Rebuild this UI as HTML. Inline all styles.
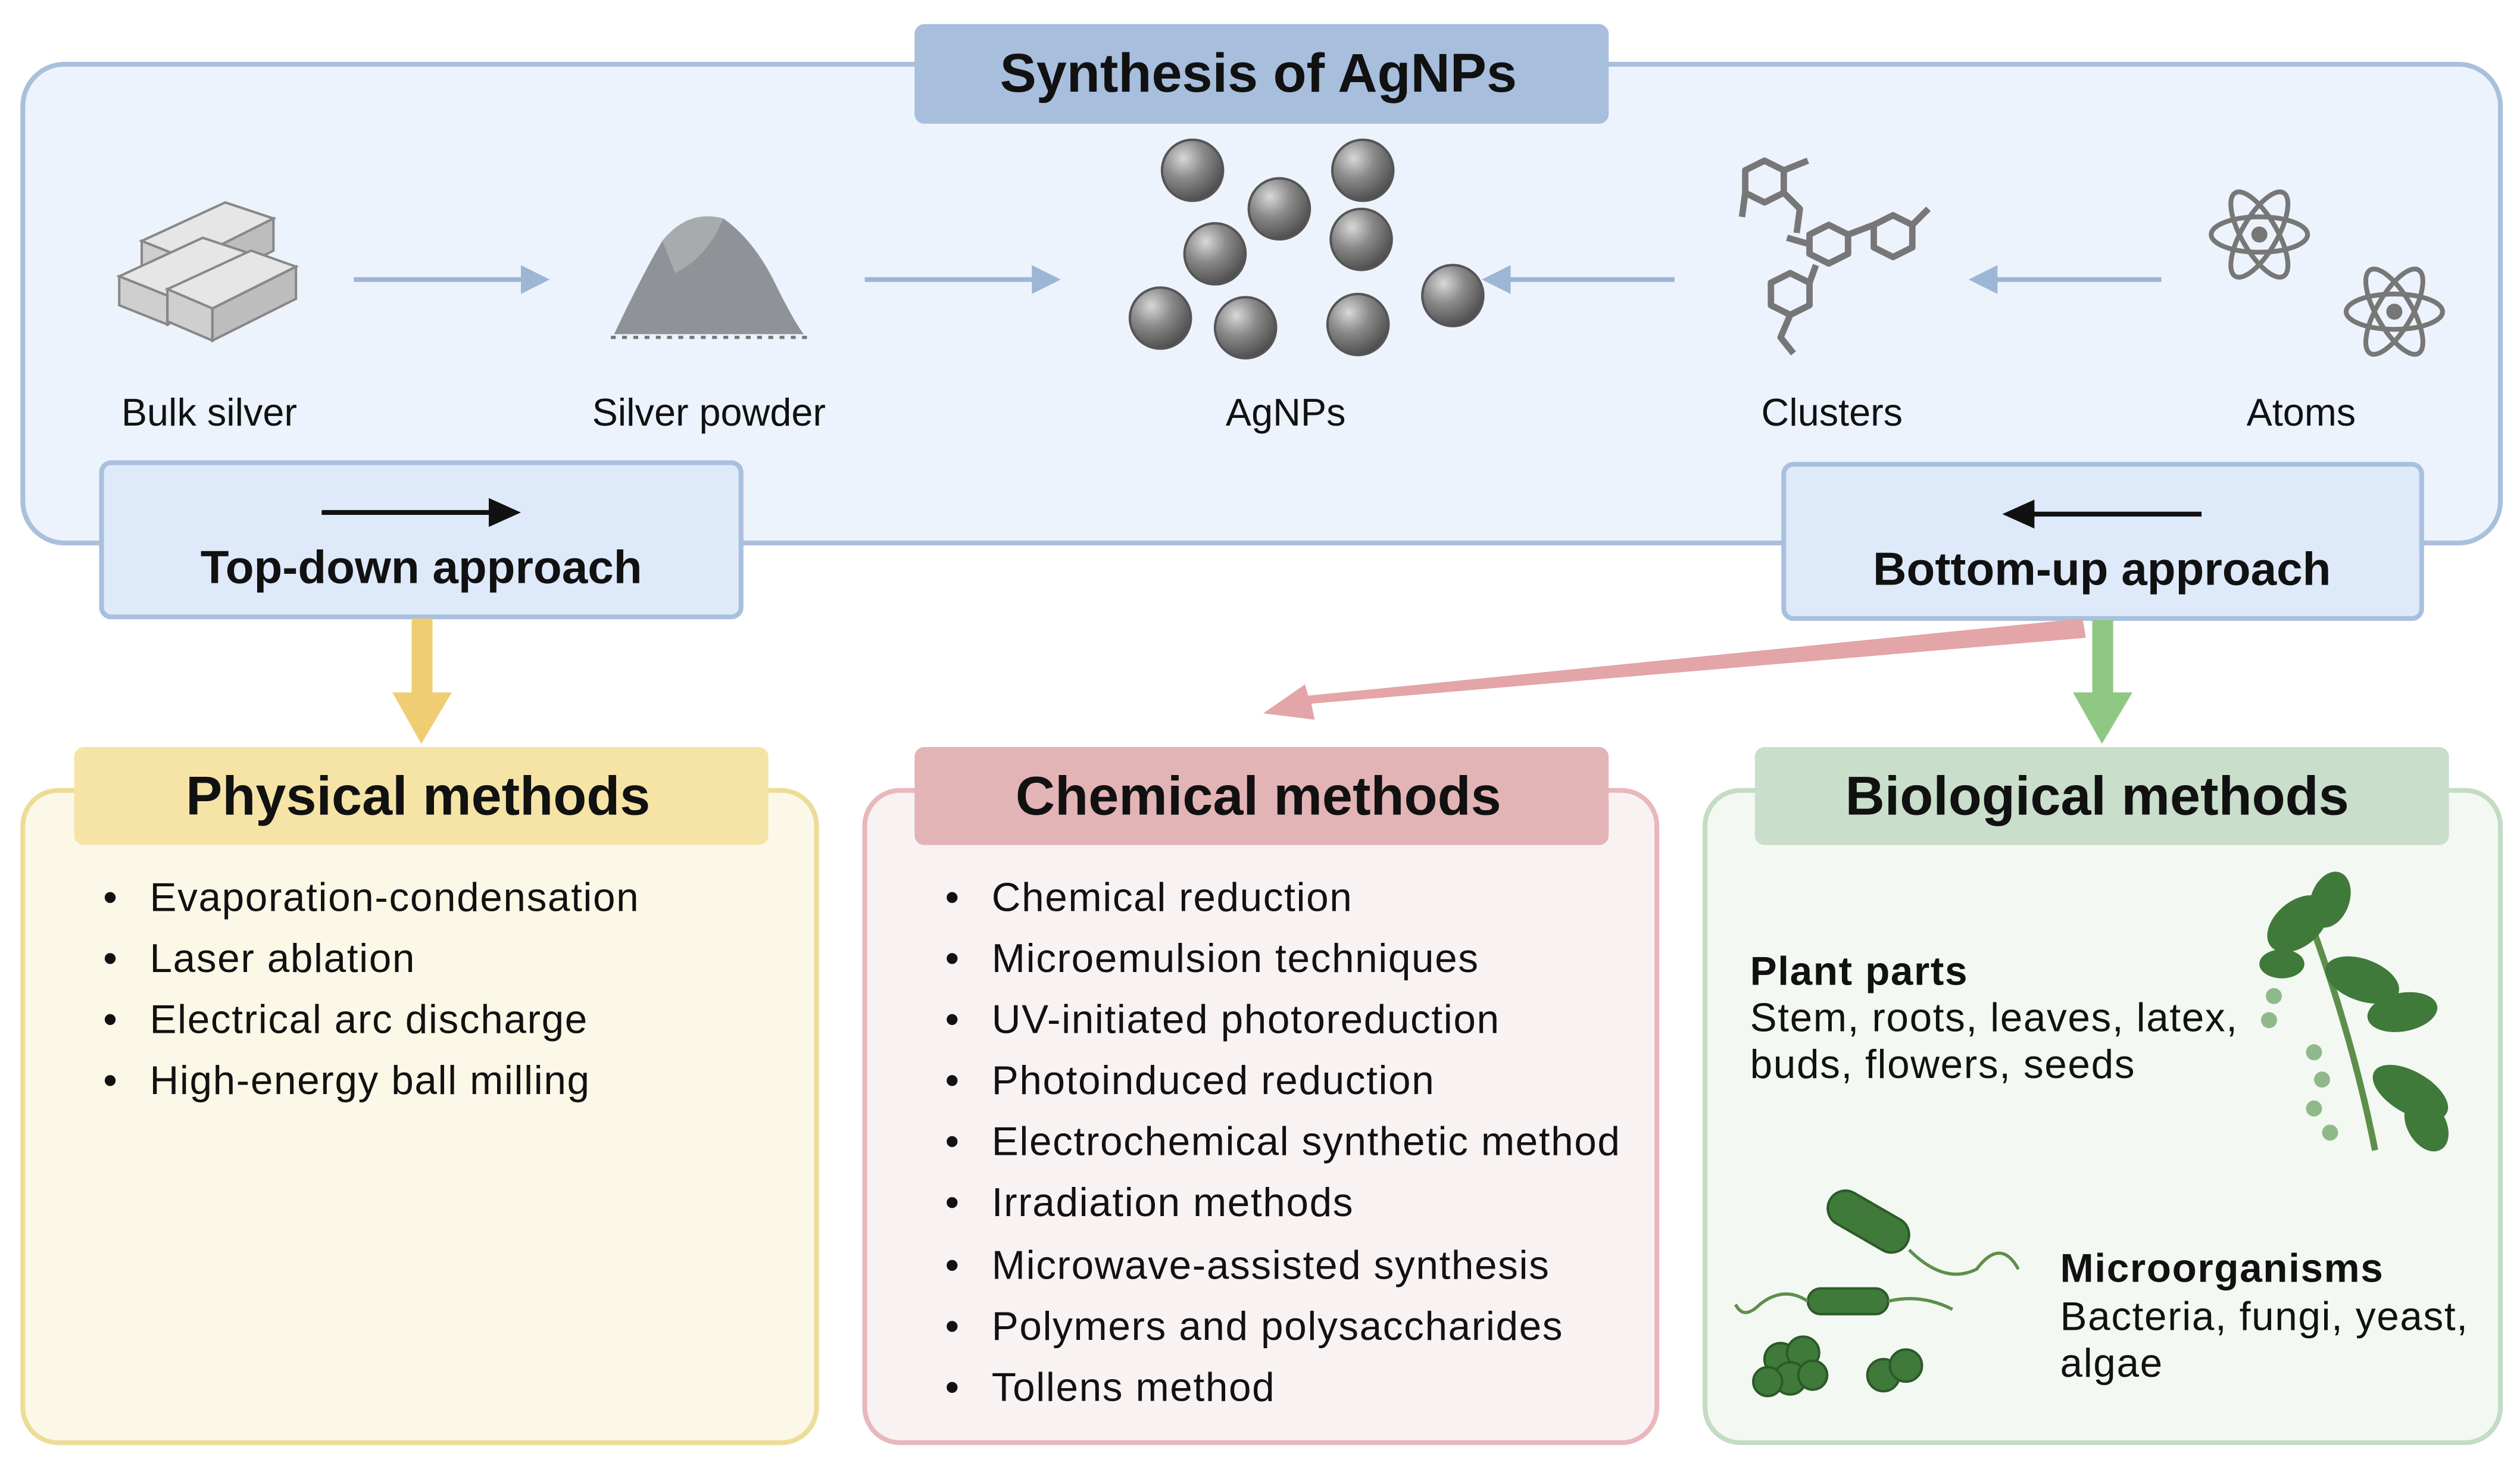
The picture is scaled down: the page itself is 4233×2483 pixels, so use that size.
<!DOCTYPE html>
<html><head><meta charset="utf-8"><style>
html,body{margin:0;padding:0;background:#fff;}
svg{display:block;}
text{font-family:"Liberation Sans","DejaVu Sans",sans-serif;fill:#111;}
.b{font-weight:bold;}
.l text{letter-spacing:0.6px;}
</style></head><body>
<svg width="4233" height="2483" viewBox="0 0 1568 920" xmlns="http://www.w3.org/2000/svg">
<defs>
<radialGradient id="sp" cx="0.35" cy="0.3" r="0.75">
<stop offset="0" stop-color="#d8d8d8"/><stop offset="0.45" stop-color="#8a8a8a"/><stop offset="1" stop-color="#4a4a4a"/>
</radialGradient>
</defs>
<rect width="1568" height="920" fill="#fff"/>
<rect x="14" y="40" width="1542" height="298" rx="26" fill="#edf3fd" stroke="#a9c0dd" stroke-width="3"/>
<rect x="569" y="15" width="432" height="62" rx="6" fill="#a7bedd"/>
<text x="783" y="57" font-size="34" text-anchor="middle" class="b">Synthesis of AgNPs</text>

<g stroke="#888" stroke-width="1.5" fill="#e6e6e6">
<polygon points="88,150 140,126 170,136 118,162"/><polygon points="88,150 118,162 118,182 88,170" fill="#cfcfcf"/><polygon points="118,162 170,136 170,156 118,182" fill="#bdbdbd"/>
<polygon points="74,172 126,148 156,158 104,184"/><polygon points="74,172 104,184 104,202 74,190" fill="#cfcfcf"/><polygon points="104,184 156,158 156,176 104,202" fill="#bdbdbd"/>
<polygon points="104,180 156,156 184,166 132,192"/><polygon points="104,180 132,192 132,212 104,200" fill="#cfcfcf"/><polygon points="132,192 184,166 184,186 132,212" fill="#bdbdbd"/>
</g>
<path d="M382,208 Q400,170 412,150 Q428,130 450,136 Q470,150 484,180 Q494,200 500,208 Z" fill="#8f9296"/>
<path d="M412,150 Q428,130 450,136 Q440,160 420,170 Z" fill="#a8abae"/>
<line x1="380" y1="210" x2="502" y2="210" stroke="#777" stroke-width="2" stroke-dasharray="3,4"/>

<g stroke="#9db6d6" stroke-width="3" fill="none">
<line x1="220" y1="174" x2="330" y2="174"/><line x1="538" y1="174" x2="648" y2="174"/>
<line x1="1042" y1="174" x2="934" y2="174"/><line x1="1345" y1="174" x2="1237" y2="174"/>
</g>
<g fill="#9db6d6">
<polygon points="342,174 324,165 324,183"/><polygon points="660,174 642,165 642,183"/>
<polygon points="922,174 940,165 940,183"/><polygon points="1225,174 1243,165 1243,183"/>
</g>

<g stroke="#555" stroke-width="1.5" fill="url(#sp)">
<circle cx="742" cy="106" r="19"/><circle cx="848" cy="106" r="19"/><circle cx="796" cy="130" r="19"/>
<circle cx="756" cy="158" r="19"/><circle cx="847" cy="149" r="19"/><circle cx="722" cy="198" r="19"/>
<circle cx="775" cy="204" r="19"/><circle cx="845" cy="202" r="19"/><circle cx="904" cy="184" r="19"/>
</g>

<g stroke="#777" stroke-width="4" fill="none" stroke-linejoin="round">
<polygon points="1098,100 1110,106 1110,120 1098,126 1086,120 1086,106"/>
<path d="M1110,120 L1120,130 L1118,145 M1086,120 L1084,135 M1110,106 L1125,100"/>
<polygon points="1138,140 1150,146 1150,158 1138,164 1126,158 1126,146"/>
<polygon points="1178,134 1190,140 1190,154 1178,160 1166,154 1166,140"/>
<path d="M1150,146 L1166,140 M1190,140 L1200,130 M1126,152 L1112,148"/>
<polygon points="1114,170 1126,176 1126,190 1114,196 1102,190 1102,176"/>
<path d="M1114,196 L1108,210 L1116,220 M1126,176 L1130,165"/>
</g>
<g stroke="#777" stroke-width="3" fill="none">
<ellipse cx="1406" cy="146" rx="30" ry="11"/><ellipse cx="1406" cy="146" rx="30" ry="11" transform="rotate(60 1406 146)"/><ellipse cx="1406" cy="146" rx="30" ry="11" transform="rotate(-60 1406 146)"/>
<ellipse cx="1490" cy="194" rx="30" ry="11"/><ellipse cx="1490" cy="194" rx="30" ry="11" transform="rotate(60 1490 194)"/><ellipse cx="1490" cy="194" rx="30" ry="11" transform="rotate(-60 1490 194)"/>
</g>
<circle cx="1406" cy="146" r="5" fill="#777"/><circle cx="1490" cy="194" r="5" fill="#777"/>

<g font-size="24" text-anchor="middle">
<text x="130" y="265">Bulk silver</text><text x="441" y="265">Silver powder</text><text x="800" y="265">AgNPs</text>
<text x="1140" y="265">Clusters</text><text x="1432" y="265">Atoms</text>
</g>

<rect x="63" y="288" width="398" height="96" rx="6" fill="#deeafa" stroke="#a9c0dd" stroke-width="3"/>
<line x1="200" y1="319" x2="308" y2="319" stroke="#111" stroke-width="3"/><polygon points="324,319 304,310 304,328" fill="#111"/>
<text x="262" y="363" font-size="29" text-anchor="middle" class="b">Top-down approach</text>
<rect x="1110" y="289" width="397" height="96" rx="6" fill="#deeafa" stroke="#a9c0dd" stroke-width="3"/>
<line x1="1370" y1="320" x2="1262" y2="320" stroke="#111" stroke-width="3"/><polygon points="1246,320 1266,311 1266,329" fill="#111"/>
<text x="1308" y="364" font-size="29" text-anchor="middle" class="b">Bottom-up approach</text>

<rect x="256" y="385" width="13" height="48" fill="#f0cd73"/><polygon points="244,431 281,431 262,463" fill="#f0cd73"/>
<rect x="1302" y="386" width="13" height="47" fill="#8fc882"/><polygon points="1290,431 1327,431 1308,463" fill="#8fc882"/>
<polygon points="1296,385 1298,397 816,438 818,448 786,444 812,426 814,433" fill="#e3a5a8"/>

<rect x="14" y="492" width="494" height="406" rx="22" fill="#fcf8e8" stroke="#ecdc97" stroke-width="3"/>
<rect x="46" y="465" width="432" height="61" rx="6" fill="#f5e4a6"/>
<text x="260" y="507" font-size="34" text-anchor="middle" class="b">Physical methods</text>
<rect x="538" y="492" width="493" height="406" rx="22" fill="#f9f2f2" stroke="#e8b8ba" stroke-width="3"/>
<rect x="569" y="465" width="432" height="61" rx="6" fill="#e3b4b6"/>
<text x="783" y="507" font-size="34" text-anchor="middle" class="b">Chemical methods</text>
<rect x="1061" y="492" width="495" height="406" rx="22" fill="#f4f8f3" stroke="#c3dcc3" stroke-width="3"/>
<rect x="1092" y="465" width="432" height="61" rx="6" fill="#c9decb"/>
<text x="1305" y="507" font-size="34" text-anchor="middle" class="b">Biological methods</text>

<g font-size="25" class="l">
<text x="64" y="567">•</text><text x="93" y="567">Evaporation-condensation</text>
<text x="64" y="605">•</text><text x="93" y="605">Laser ablation</text>
<text x="64" y="643">•</text><text x="93" y="643">Electrical arc discharge</text>
<text x="64" y="681">•</text><text x="93" y="681">High-energy ball milling</text>

<text x="588" y="567">•</text><text x="617" y="567">Chemical reduction</text>
<text x="588" y="605">•</text><text x="617" y="605">Microemulsion techniques</text>
<text x="588" y="643">•</text><text x="617" y="643">UV-initiated photoreduction</text>
<text x="588" y="681">•</text><text x="617" y="681">Photoinduced reduction</text>
<text x="588" y="719">•</text><text x="617" y="719">Electrochemical synthetic method</text>
<text x="588" y="757">•</text><text x="617" y="757">Irradiation methods</text>
<text x="588" y="796">•</text><text x="617" y="796">Microwave-assisted synthesis</text>
<text x="588" y="834">•</text><text x="617" y="834">Polymers and polysaccharides</text>
<text x="588" y="872">•</text><text x="617" y="872">Tollens method</text>

<text x="1089" y="613" class="b">Plant parts</text>
<text x="1089" y="642">Stem, roots, leaves, latex,</text>
<text x="1089" y="671">buds, flowers, seeds</text>
<text x="1282" y="798" class="b">Microorganisms</text>
<text x="1282" y="828">Bacteria, fungi, yeast,</text>
<text x="1282" y="857">algae</text>
</g>

<g fill="#3f7a3a">
<path d="M1478,716 Q1465,650 1440,580" stroke="#5d8f4a" stroke-width="4" fill="none"/>
<ellipse cx="1430" cy="575" rx="22" ry="14" transform="rotate(-40 1430 575)"/>
<ellipse cx="1450" cy="560" rx="18" ry="12" transform="rotate(-70 1450 560)"/>
<ellipse cx="1470" cy="610" rx="24" ry="13" transform="rotate(20 1470 610)"/>
<ellipse cx="1495" cy="630" rx="22" ry="12" transform="rotate(-10 1495 630)"/>
<ellipse cx="1500" cy="680" rx="26" ry="13" transform="rotate(30 1500 680)"/>
<ellipse cx="1510" cy="700" rx="18" ry="12" transform="rotate(60 1510 700)"/>
<ellipse cx="1420" cy="600" rx="14" ry="9"/>
</g>
<g fill="#8fb98a"><circle cx="1415" cy="620" r="5"/><circle cx="1412" cy="635" r="5"/><circle cx="1440" cy="655" r="5"/><circle cx="1445" cy="672" r="5"/><circle cx="1440" cy="690" r="5"/><circle cx="1450" cy="705" r="5"/></g>
<g fill="#3f7a3a" stroke="#2c5a2a" stroke-width="1.5">
<rect x="1135" y="748" width="55" height="22" rx="11" transform="rotate(30 1160 760)"/>
<rect x="1125" y="802" width="50" height="16" rx="8"/>
<circle cx="1108" cy="846" r="10"/><circle cx="1122" cy="842" r="10"/><circle cx="1114" cy="858" r="10"/><circle cx="1100" cy="860" r="9"/><circle cx="1128" cy="856" r="9"/>
<circle cx="1172" cy="856" r="10"/><circle cx="1186" cy="850" r="10"/>
</g>
<g stroke="#5d8f4a" stroke-width="2" fill="none">
<path d="M1188,778 Q1210,800 1230,790 Q1245,770 1256,790"/>
<path d="M1125,810 Q1110,800 1095,812 Q1085,822 1080,812"/>
<path d="M1175,810 Q1195,805 1215,815"/>
</g>
</svg>
</body></html>
